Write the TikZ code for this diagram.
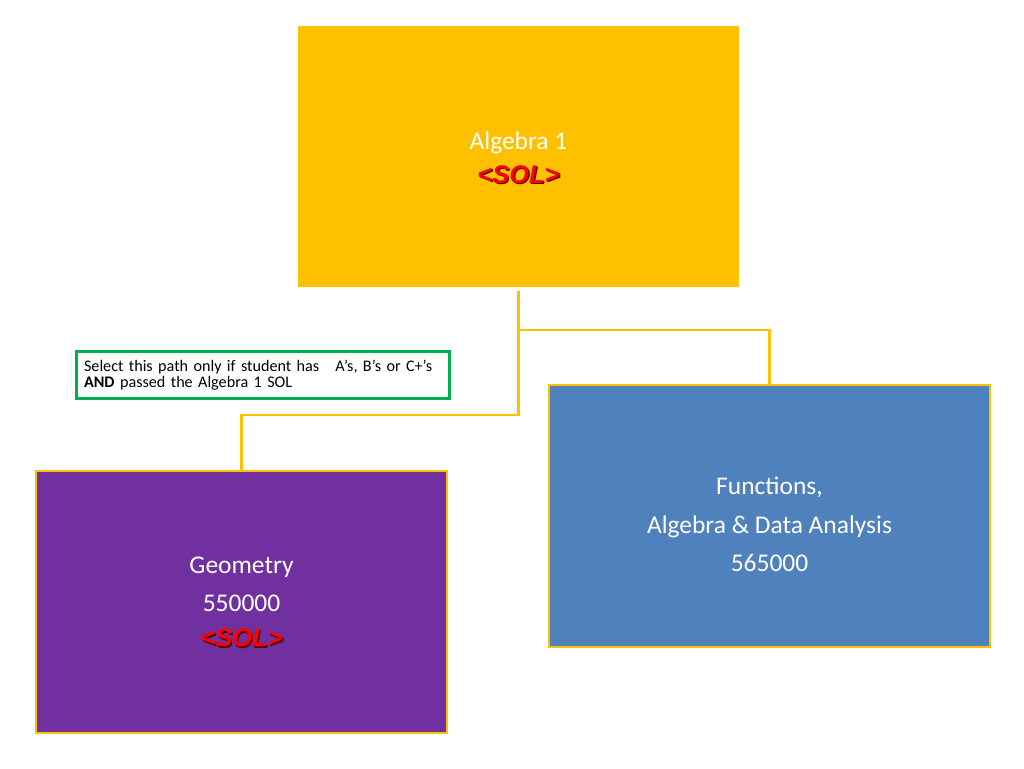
\documentclass[tikz,border=0pt]{standalone}
\usepackage{fontspec}
\setmainfont{Carlito}
\newfontfamily\solfont{Liberation Sans}
\definecolor{boxyellow}{HTML}{FFC000}
\definecolor{boxpurple}{HTML}{7030A0}
\definecolor{boxblue}{HTML}{4F81BD}
\definecolor{notegreen}{HTML}{00B050}
\definecolor{solred}{HTML}{FF0000}
\definecolor{soldark}{HTML}{5A0000}
\newcommand{\soltag}{{\solfont\bfseries\itshape\fontsize{14.5}{17}\selectfont
  \rlap{\kern0.8pt\raisebox{-0.8pt}{\color{soldark}<SOL>}}\color{solred}<SOL>}}
\tikzset{
  chartbox/.style={rectangle, draw=boxyellow, line width=1.1pt, inner sep=0pt},
  boxtext/.style={text=white, align=center, font=\fontsize{14.5}{22}\selectfont},
  link/.style={draw=boxyellow, line width=1.4pt},
}
\begin{document}
\begin{tikzpicture}[x=0.02cm,y=-0.02cm]
\useasboundingbox (0,0) rectangle (1024,768);
% boxes
\node[chartbox, fill=boxyellow, minimum width=8.78cm, minimum height=5.18cm] (alg) at (518.5,156.5) {};
\node[chartbox, fill=boxpurple, minimum width=8.22cm, minimum height=5.24cm] (geo) at (241.5,602) {};
\node[chartbox, fill=boxblue, minimum width=8.82cm, minimum height=5.24cm] (fun) at (769.5,516) {};
% texts
\node[boxtext] (algtext) at (518.5,158.5) {Algebra 1\\[-3pt]\soltag};
\node[boxtext] (geotext) at (241.5,602.5) {Geometry\\550000\\[-2pt]\soltag};
\node[boxtext] (funtext) at (769.5,524.5) {Functions,\\Algebra \& Data Analysis\\565000};
% note
\node[draw=notegreen, line width=1.7pt, fill=white, text width=7.16cm, inner sep=0.16cm,
  align=left, font=\fontsize{9.2}{9.4}\selectfont] (note) at (263,375)
  {Select this path only if student has\ \ \ A’s, B’s or C+’s\\\textbf{AND} passed the Algebra 1 SOL};
% connectors
\coordinate (split) at (518.5,415);
\coordinate (branch) at (518.5,330);
\draw[link, shorten <=0.08cm] (alg.south) -- (split) -| (geo.north);
\draw[link] (branch) -| (fun.north);
\end{tikzpicture}
\end{document}
